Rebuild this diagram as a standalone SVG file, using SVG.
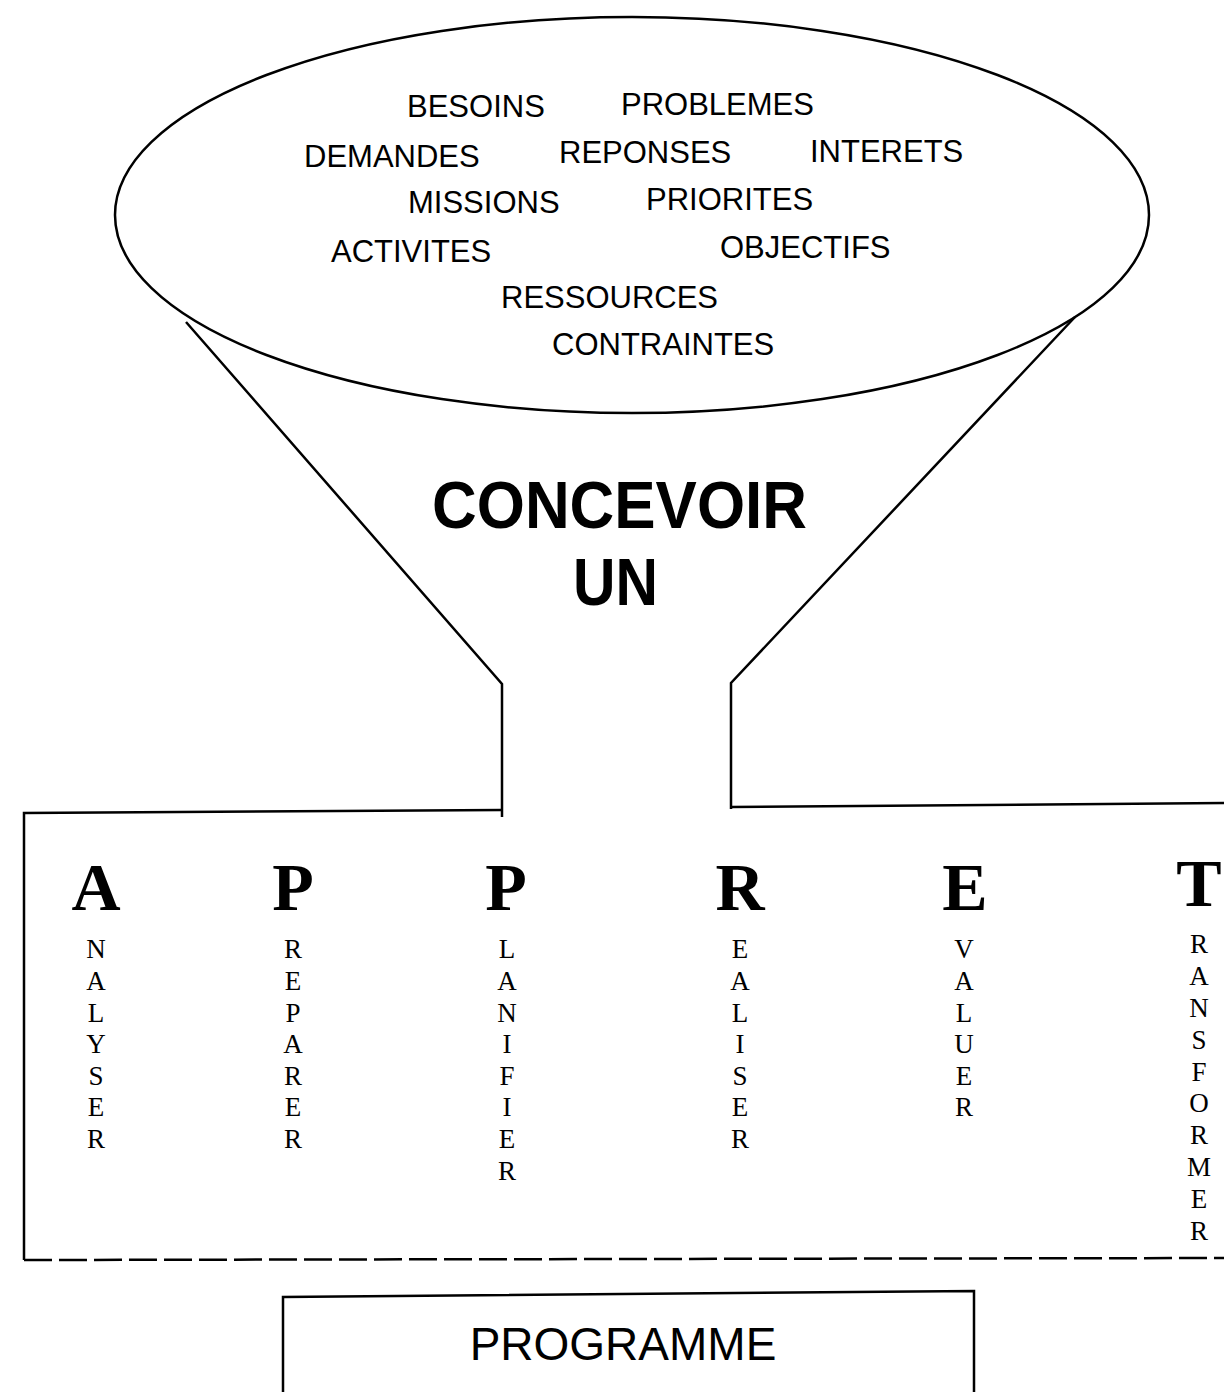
<svg xmlns="http://www.w3.org/2000/svg" width="1224" height="1392" viewBox="0 0 1224 1392">
<style>
.ln{fill:none;stroke:#000;stroke-width:2.5}
.w{font-family:"Liberation Sans",Arial,sans-serif;font-size:31px;fill:#000}
.big{font-family:"Liberation Sans",Arial,sans-serif;font-size:67px;font-weight:bold;fill:#000}
.cap{font-family:"Liberation Serif","Times New Roman",serif;font-size:68px;font-weight:bold;fill:#000;text-anchor:middle}
.sm{font-family:"Liberation Serif","Times New Roman",serif;font-size:27px;fill:#000;text-anchor:middle}
.prog{font-family:"Liberation Sans",Arial,sans-serif;font-size:46px;fill:#000;text-anchor:middle}
</style>
<rect width="1224" height="1392" fill="#fff"/>
<g id="funnel">
<ellipse class="ln" cx="632" cy="215" rx="517" ry="198"/>
<g class="w">
<text x="407" y="117">BESOINS</text>
<text x="621" y="115">PROBLEMES</text>
<text x="304" y="167">DEMANDES</text>
<text x="559" y="163">REPONSES</text>
<text x="810" y="162">INTERETS</text>
<text x="408" y="213">MISSIONS</text>
<text x="646" y="210">PRIORITES</text>
<text x="331" y="262">ACTIVITES</text>
<text x="720" y="258">OBJECTIFS</text>
<text x="501" y="308">RESSOURCES</text>
<text x="552" y="355">CONTRAINTES</text>
</g>
</g>
<g id="connectors">
<polyline class="ln" points="186,322 502,684 502,817"/>
<polyline class="ln" points="1075,317 731,683 731,809"/>
<polyline class="ln" points="502,810 24,813 24,1260"/>
<line class="ln" x1="731" y1="807" x2="1224" y2="803"/>
<line class="ln" x1="24" y1="1260" x2="1224" y2="1258" stroke-width="3" stroke-dasharray="28,7"/>
</g>
<g id="title">
<text class="big" x="432" y="528" textLength="375" lengthAdjust="spacingAndGlyphs">CONCEVOIR</text>
<text class="big" x="573" y="605" textLength="85" lengthAdjust="spacingAndGlyphs">UN</text>
</g>
<g id="appret">
<g id="col-A">
<text class="cap" x="96" y="910">A</text>
<text class="sm" x="96" y="958">N</text><text class="sm" x="96" y="990">A</text><text class="sm" x="96" y="1022">L</text><text class="sm" x="96" y="1053">Y</text><text class="sm" x="96" y="1085">S</text><text class="sm" x="96" y="1116">E</text><text class="sm" x="96" y="1148">R</text>
</g>
<g id="col-P1">
<text class="cap" x="293" y="910">P</text>
<text class="sm" x="293" y="958">R</text><text class="sm" x="293" y="990">E</text><text class="sm" x="293" y="1022">P</text><text class="sm" x="293" y="1053">A</text><text class="sm" x="293" y="1085">R</text><text class="sm" x="293" y="1116">E</text><text class="sm" x="293" y="1148">R</text>
</g>
<g id="col-P2">
<text class="cap" x="506" y="910">P</text>
<text class="sm" x="507" y="958">L</text><text class="sm" x="507" y="990">A</text><text class="sm" x="507" y="1022">N</text><text class="sm" x="507" y="1053">I</text><text class="sm" x="507" y="1085">F</text><text class="sm" x="507" y="1116">I</text><text class="sm" x="507" y="1148">E</text><text class="sm" x="507" y="1180">R</text>
</g>
<g id="col-R">
<text class="cap" x="740" y="910">R</text>
<text class="sm" x="740" y="958">E</text><text class="sm" x="740" y="990">A</text><text class="sm" x="740" y="1022">L</text><text class="sm" x="740" y="1053">I</text><text class="sm" x="740" y="1085">S</text><text class="sm" x="740" y="1116">E</text><text class="sm" x="740" y="1148">R</text>
</g>
<g id="col-E">
<text class="cap" x="965" y="910">E</text>
<text class="sm" x="964" y="958">V</text><text class="sm" x="964" y="990">A</text><text class="sm" x="964" y="1022">L</text><text class="sm" x="964" y="1053">U</text><text class="sm" x="964" y="1085">E</text><text class="sm" x="964" y="1116">R</text>
</g>
<g id="col-T">
<text class="cap" x="1199" y="906">T</text>
<text class="sm" x="1199" y="953">R</text><text class="sm" x="1199" y="985">A</text><text class="sm" x="1199" y="1017">N</text><text class="sm" x="1199" y="1049">S</text><text class="sm" x="1199" y="1081">F</text><text class="sm" x="1199" y="1112">O</text><text class="sm" x="1199" y="1144">R</text><text class="sm" x="1199" y="1176">M</text><text class="sm" x="1199" y="1208">E</text><text class="sm" x="1199" y="1240">R</text>
</g>
</g>
<g id="programme">
<polyline class="ln" points="283,1392 283,1297 974,1291 974,1392"/>
<text class="prog" x="623" y="1360">PROGRAMME</text>
</g>
</svg>
